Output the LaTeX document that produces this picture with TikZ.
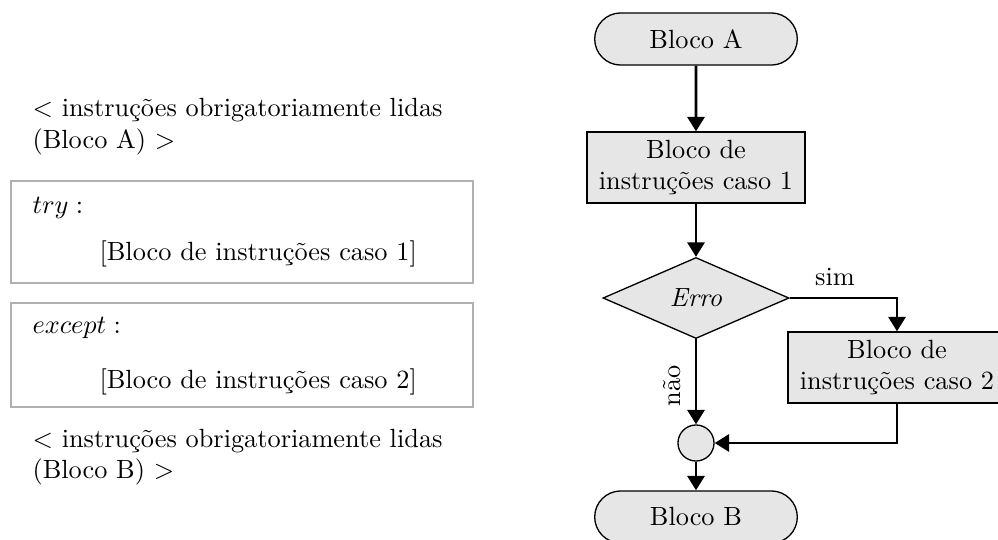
\documentclass[tikz,border=0pt]{standalone}
\usetikzlibrary{shapes.geometric,shapes.misc,arrows.meta}
\definecolor{boxgray}{RGB}{176,176,176}
\definecolor{nodefill}{RGB}{230,230,230}
\tikzset{
  flownode/.style={draw=black, line width=0.5pt, fill=nodefill, align=center, inner sep=0pt},
  terminal/.style={flownode, rounded rectangle, minimum width=77pt, minimum height=19.8pt},
  process/.style={flownode, rectangle, minimum width=82.8pt, minimum height=27pt},
  decision/.style={flownode, diamond, minimum width=70.7pt, minimum height=30.8pt},
  junction/.style={flownode, circle, minimum size=13.7pt},
  flow/.style={line width=1.1pt, -{Triangle[length=5.5pt,width=6.5pt]}},
  codebox/.style={draw=boxgray, line width=0.8pt},
  codeline/.style={anchor=base west, inner sep=0pt}
}
\begin{document}
\begin{tikzpicture}[x=0.38pt, y=-0.38pt]
  \useasboundingbox (0,0) rectangle (998,539);

  % pseudo-code column
  \node[codeline] (la1) at (32,116) {$<$ instruções obrigatoriamente lidas};
  \node[codeline] (la2) at (32,148) {(Bloco A) $>$};

  \draw[codebox] (11,181) rectangle (473,283);
  \node[codeline] (try) at (32,213) {$try:$};
  \node[codeline] (c1) at (99,260) {[Bloco de instruções caso 1]};

  \draw[codebox] (11,303) rectangle (473,407);
  \node[codeline] (exc) at (32,333) {$except:$};
  \node[codeline] (c2) at (99,388) {[Bloco de instruções caso 2]};

  \node[codeline] (lb1) at (32,447) {$<$ instruções obrigatoriamente lidas};
  \node[codeline] (lb2) at (32,478) {(Bloco B) $>$};

  % flowchart column
  \node[terminal] (A) at (696,39) {Bloco A};
  \node[process] (R1) at (696,167.5) {Bloco de\\instruções caso 1};
  \node[decision] (D) at (696,298) {\textit{Erro}};
  \node[process] (R2) at (897,367.5) {Bloco de\\instruções caso 2};
  \node[junction] (C) at (696,443) {};
  \node[terminal] (B) at (696,517) {Bloco B};

  \draw[flow] (A) -- (R1);
  \draw[flow] (R1) -- (D);
  \draw[flow] (D.east) -| (R2.north);
  \draw[flow] (D.south) -- (C.north);
  \draw[flow] (R2.south) |- (C.east);
  \draw[flow] (C.south) -- (B.north);

  \node (sim) at (835,277) {sim};
  \node[rotate=90] (nao) at (672,386) {não};
\end{tikzpicture}
\end{document}
